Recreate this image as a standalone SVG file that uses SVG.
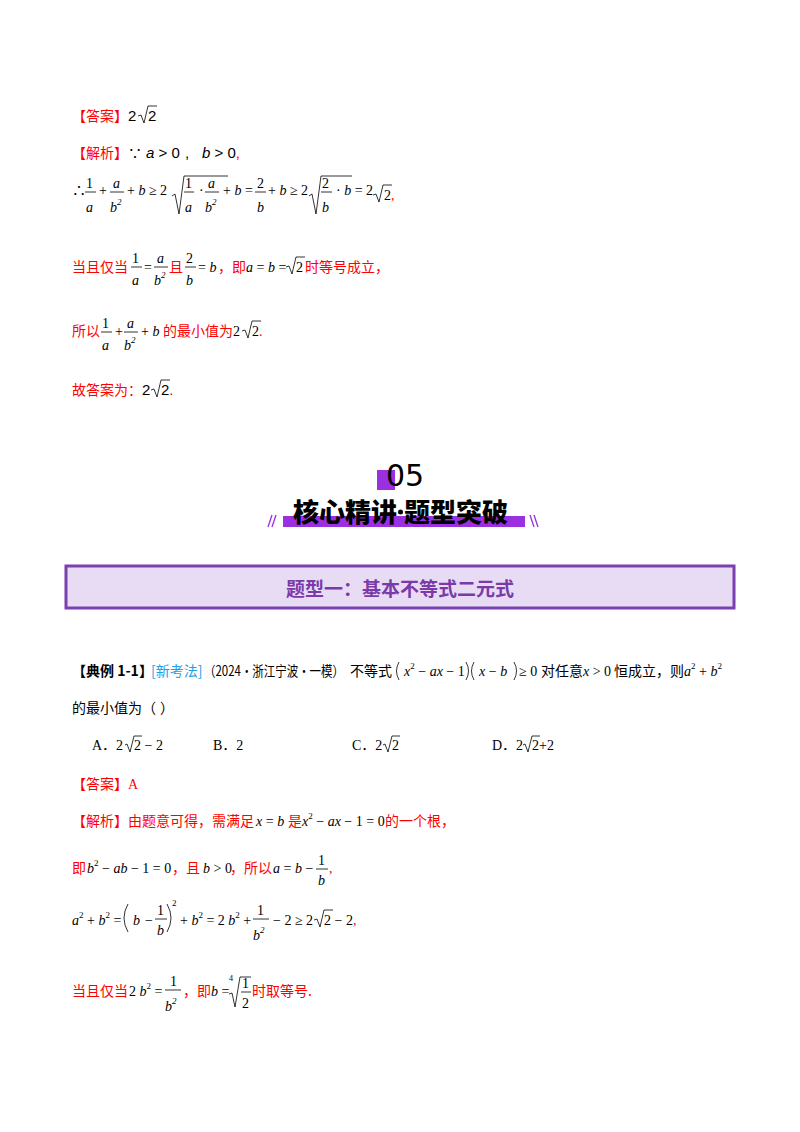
<svg xmlns="http://www.w3.org/2000/svg" width="800" height="1132" viewBox="0 0 800 1132">
<style>
text{font-family:"Liberation Serif","Noto Sans CJK SC",serif;font-size:14px;fill:#000}
.r{fill:#ff0000}
.cj{font-family:"Noto Sans CJK SC",sans-serif}
.m{font-family:"Liberation Sans","Noto Sans CJK SC",sans-serif;font-size:15px}
.i{font-style:italic}
.sup{font-size:9px}
.ln{stroke:#000;stroke-width:0.8;fill:none}
.ttl{font-family:"Noto Sans CJK SC",sans-serif;font-size:26px;font-weight:900}
</style>
<rect width="800" height="1132" fill="#fff"/>

<!-- Answer 1 -->
<text x="72" y="121" class="cj r">【答案】</text>
<text x="128" y="121" class="m">2</text>
<path class="ln" d="M138 116 l3 -1 l3 8 l4 -17 h9"/>
<text x="148" y="121" class="m">2</text>

<text x="72" y="158" class="cj r">【解析】<tspan style="fill:#000">∵</tspan></text>
<text x="146" y="158" class="m"><tspan class="i">a</tspan> &gt; 0</text>
<text x="185" y="158" class="m">,</text>
<text x="202" y="158" class="m"><tspan class="i">b</tspan> &gt; 0<tspan class="r">,</tspan></text>

<!-- line 3 -->
<g class="m">
<text x="72" y="195">∴</text>
<text x="86" y="188">1</text><line class="ln" x1="85" y1="192" x2="96" y2="192"/><text x="86" y="212" class="i">a</text>
<text x="99" y="195">+</text>
<text x="113" y="188" class="i">a</text><line class="ln" x1="110" y1="192" x2="124" y2="192"/><text x="110" y="212" class="i">b<tspan class="sup" dy="-7">2</tspan></text>
<text x="127" y="195">+ <tspan class="i">b</tspan> ≥ 2</text>
<path class="ln" d="M172 196 l3 -2 l4 20 l5 -38 h44"/>
<text x="185" y="188">1</text><line class="ln" x1="184" y1="192" x2="194" y2="192"/><text x="185" y="212" class="i">a</text>
<text x="199" y="195">·</text>
<text x="208" y="188" class="i">a</text><line class="ln" x1="205" y1="192" x2="219" y2="192"/><text x="205" y="212" class="i">b<tspan class="sup" dy="-7">2</tspan></text>
<text x="223" y="195">+ <tspan class="i">b</tspan> = </text>
<text x="257" y="188">2</text><line class="ln" x1="255" y1="192" x2="266" y2="192"/><text x="257" y="212" class="i">b</text>
<text x="268" y="195">+ <tspan class="i">b</tspan> ≥ 2</text>
<path class="ln" d="M309 196 l3 -2 l4 20 l5 -38 h31"/>
<text x="322" y="188">2</text><line class="ln" x1="321" y1="192" x2="332" y2="192"/><text x="322" y="212" class="i">b</text>
<text x="336" y="195">· <tspan class="i">b</tspan> = 2</text>
<path class="ln" d="M373 195 l3 -1 l3 8 l4 -17 h9"/>
<text x="384" y="200">2<tspan class="r">,</tspan></text>
</g>

<!-- line 4 -->
<text x="72" y="272" class="cj r">当且仅当</text>
<g class="m">
<text x="132" y="263">1</text><line class="ln" x1="131" y1="267" x2="142" y2="267"/><text x="132" y="285" class="i">a</text>
<text x="144" y="272">=</text>
<text x="157" y="263" class="i">a</text><line class="ln" x1="154" y1="267" x2="168" y2="267"/><text x="154" y="285" class="i">b<tspan class="sup" dy="-7">2</tspan></text>
<text x="169" y="272" class="cj r" style="font-size:14px">且</text>
<text x="186" y="263">2</text><line class="ln" x1="185" y1="267" x2="196" y2="267"/><text x="186" y="285" class="i">b</text>
<text x="198" y="272">= <tspan class="i">b</tspan></text>
<text x="218" y="272" class="cj r" style="font-size:14px">，即</text>
<text x="246" y="272"><tspan class="i">a</tspan> = <tspan class="i">b</tspan> = </text>
<path class="ln" d="M286 267 l3 -1 l3 8 l4 -17 h9"/>
<text x="296" y="272">2</text>
<text x="305" y="272" class="cj r" style="font-size:14px">时等号成立，</text>
</g>

<!-- line 5 -->
<text x="72" y="336" class="cj r">所以</text>
<g class="m">
<text x="102" y="328">1</text><line class="ln" x1="101" y1="332" x2="112" y2="332"/><text x="102" y="350" class="i">a</text>
<text x="115" y="336">+</text>
<text x="127" y="328" class="i">a</text><line class="ln" x1="124" y1="332" x2="138" y2="332"/><text x="124" y="350" class="i">b<tspan class="sup" dy="-7">2</tspan></text>
<text x="141" y="336">+ <tspan class="i">b</tspan></text>
<text x="163" y="336" class="cj r" style="font-size:14px">的最小值为</text>
<text x="233" y="336">2</text>
<path class="ln" d="M242 331 l3 -1 l3 8 l4 -17 h9"/>
<text x="252" y="336">2<tspan class="r">.</tspan></text>
</g>

<text x="72" y="395" class="cj r">故答案为：</text>
<text x="142" y="395" class="m">2</text>
<path class="ln" d="M151 390 l3 -1 l3 8 l4 -17 h9"/>
<text x="161" y="395" class="m">2<tspan class="r">.</tspan></text>

<!-- section header -->
<g id="header">
<rect x="377" y="470" width="18" height="20" fill="#9b30e0"/>
<text x="386" y="486" style="font-family:'DejaVu Sans',sans-serif;font-size:30px">05</text>
<rect x="283" y="516" width="242" height="11" fill="#9b30e0"/>
<text x="397" y="522" text-anchor="end" class="ttl">核心精讲</text>
<circle cx="400.5" cy="512" r="2.5" fill="#000"/>
<text x="404" y="522" class="ttl">题型突破</text>
<path d="M268 527 l4 -12 M272 527 l4 -12 M530 515 l4 12 M534 515 l4 12" stroke="#9b30e0" stroke-width="1.3"/>
</g>

<g id="typebox">
<rect x="66" y="566" width="668" height="42" fill="#e8dcf5" stroke="#7b3fb0" stroke-width="3"/>
<text x="400" y="596" text-anchor="middle" style="font-family:'Noto Sans CJK SC',sans-serif;font-size:19px;font-weight:bold;fill:#7a3aa8">题型一：基本不等式二元式</text>
</g>

<!-- example -->
<text x="72" y="676" class="cj" style="font-weight:bold">【典例 1-1】</text>
<text x="151" y="676" class="cj" style="fill:#1ca0e6">[新考法]</text>
<text x="204" y="676" class="cj" textLength="140" lengthAdjust="spacingAndGlyphs">（2024·浙江宁波·一模）</text>
<text x="350" y="676" class="cj">不等式</text>
<g class="m">
<path class="ln" d="M399 662 q-5 9 0 18 M466 662 q5 9 0 18 M474 662 q-5 9 0 18 M514 662 q5 9 0 18"/>
<text x="404" y="676"><tspan class="i">x</tspan><tspan class="sup" dy="-7">2</tspan><tspan dy="7"> − </tspan><tspan class="i">ax</tspan> − 1</text>
<text x="479" y="676"><tspan class="i">x</tspan> − <tspan class="i">b</tspan></text>
<text x="519" y="676">≥ 0</text>
<text x="541" y="676" class="cj" style="font-size:14px">对任意</text>
<text x="583" y="676"><tspan class="i">x</tspan> &gt; 0</text>
<text x="614" y="676" class="cj" style="font-size:14px">恒成立，则</text>
<text x="684" y="676"><tspan class="i">a</tspan><tspan class="sup" dy="-7">2</tspan><tspan dy="7"> + </tspan><tspan class="i">b</tspan><tspan class="sup" dy="-7">2</tspan></text>
</g>
<text x="72" y="713" class="cj">的最小值为（</text>
<text x="160" y="713" class="cj">）</text>

<text x="92" y="750">A．2</text><path class="ln" d="M125 745 l2 -1 l3 8 l4 -16 h8"/><text x="134" y="750">2 − 2</text>
<text x="213" y="750">B．2</text>
<text x="352" y="750">C．2</text><path class="ln" d="M383 745 l2 -1 l3 8 l4 -16 h8"/><text x="392" y="750">2</text>
<text x="492" y="750">D．2</text><path class="ln" d="M523 745 l2 -1 l3 8 l4 -16 h8"/><text x="532" y="750">2+2</text>

<text x="72" y="789" class="cj r">【答案】<tspan style="font-family:'Liberation Serif',serif">A</tspan></text>

<!-- solution -->
<text x="72" y="826" class="cj r">【解析】由题意可得，需满足</text>
<g class="m">
<text x="256" y="826"><tspan class="i">x</tspan> = <tspan class="i">b</tspan></text>
<text x="288" y="826" class="cj r" style="font-size:14px">是</text>
<text x="302" y="826"><tspan class="i">x</tspan><tspan class="sup" dy="-7">2</tspan><tspan dy="7"> − </tspan><tspan class="i">ax</tspan> − 1 = 0</text>
<text x="385" y="826" class="cj r" style="font-size:14px">的一个根，</text>

<text x="72" y="873" class="cj r" style="font-size:14px">即</text>
<text x="87" y="873"><tspan class="i">b</tspan><tspan class="sup" dy="-7">2</tspan><tspan dy="7"> − </tspan><tspan class="i">ab</tspan> − 1 = 0</text>
<text x="172" y="873" class="cj r" style="font-size:14px">，且</text>
<text x="203" y="873"><tspan class="i">b</tspan> &gt; 0</text>
<text x="230" y="873" class="cj r" style="font-size:14px">，所以</text>
<text x="273" y="873"><tspan class="i">a</tspan> = <tspan class="i">b</tspan> − </text>
<text x="318" y="865">1</text><line class="ln" x1="316" y1="869" x2="328" y2="869"/><text x="318" y="885" class="i">b</text>
<text x="329" y="873" class="r">,</text>

<text x="72" y="925"><tspan class="i">a</tspan><tspan class="sup" dy="-7">2</tspan><tspan dy="7"> + </tspan><tspan class="i">b</tspan><tspan class="sup" dy="-7">2</tspan><tspan dy="7"> =</tspan></text>
<path class="ln" d="M128 904 q-8 14 0 28 M167 904 q8 14 0 28"/>
<text x="133" y="925" class="i">b</text><text x="145" y="925">−</text>
<text x="157" y="915">1</text><line class="ln" x1="155" y1="919" x2="167" y2="919"/><text x="157" y="935" class="i">b</text>
<text x="172" y="906" class="sup">2</text>
<text x="180" y="925">+ <tspan class="i">b</tspan><tspan class="sup" dy="-7">2</tspan><tspan dy="7"> = 2 </tspan><tspan class="i">b</tspan><tspan class="sup" dy="-7">2</tspan><tspan dy="7"> + </tspan></text>
<text x="257" y="915">1</text><line class="ln" x1="253" y1="919" x2="269" y2="919"/><text x="253" y="940" class="i">b<tspan class="sup" dy="-7">2</tspan></text>
<text x="273" y="925">− 2 ≥ 2</text>
<path class="ln" d="M314 920 l3 -1 l3 8 l4 -17 h9"/>
<text x="324" y="925">2 − 2<tspan class="r">,</tspan></text>

<text x="72" y="996" class="cj r" style="font-size:14px">当且仅当</text>
<text x="129" y="996">2 <tspan class="i">b</tspan><tspan class="sup" dy="-7">2</tspan><tspan dy="7"> =</tspan></text>
<text x="170" y="986">1</text><line class="ln" x1="165" y1="990" x2="181" y2="990"/><text x="165" y="1011" class="i">b<tspan class="sup" dy="-7">2</tspan></text>
<text x="183" y="996" class="cj r" style="font-size:14px">，即</text>
<text x="211" y="996"><tspan class="i">b</tspan> =</text>
<text x="229" y="981" style="font-size:8px">4</text>
<path class="ln" d="M229 994 l3 -1 l3 14 l5 -30 h11"/>
<text x="242" y="988">1</text><line class="ln" x1="241" y1="992" x2="251" y2="992"/><text x="242" y="1008">2</text>
<text x="252" y="996" class="cj r" style="font-size:14px">时取等号.</text>
</g>
</svg>
